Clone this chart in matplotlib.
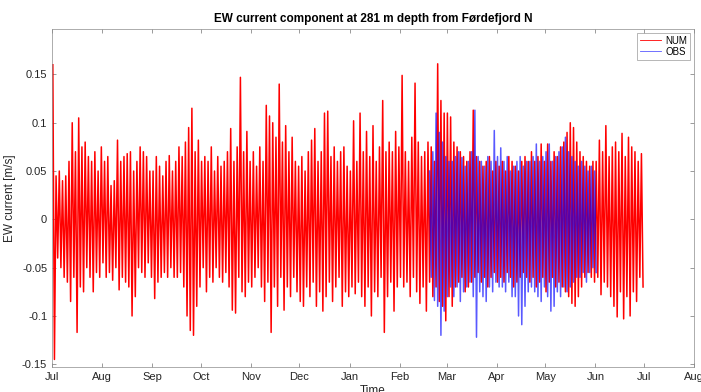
import numpy as np
import pandas as pd
import matplotlib
matplotlib.use("Agg")
import matplotlib.pyplot as plt

plt.rcParams.update({
    "font.family": ["Liberation Sans", "DejaVu Sans"],
    "font.size": 8,
    "axes.linewidth": 0.5,
})

# ================================
# data: 2-day envelope (max / min), m/s
# ================================
num_start = "2019-07-01"
# NUM, one value per 2-day bin, Jul 2019 -> Jun 2020
num_hi = [
    # Jul
    0.160, 0.045, 0.050, 0.040, 0.045, 0.060, 0.100, 0.070, 0.105, 0.075, 0.080, 0.065, 0.060, 0.070, 0.050, 0.075,
    # Aug
    0.060, 0.065, 0.035, 0.040, 0.082, 0.060, 0.065, 0.068, 0.070, 0.050, 0.060, 0.075, 0.070, 0.065, 0.050,
    # Sep
    0.050, 0.065, 0.055, 0.045, 0.060, 0.066, 0.050, 0.060, 0.075, 0.065, 0.080, 0.095, 0.115, 0.070, 0.082, 0.060,
    # Oct
    0.065, 0.060, 0.075, 0.050, 0.065, 0.055, 0.060, 0.070, 0.094, 0.060, 0.075, 0.147, 0.070, 0.091, 0.060,
    # Nov
    0.070, 0.055, 0.075, 0.060, 0.118, 0.107, 0.100, 0.085, 0.140, 0.080, 0.097, 0.070, 0.085, 0.060, 0.055,
    # Dec
    0.065, 0.050, 0.070, 0.082, 0.094, 0.060, 0.070, 0.110, 0.112, 0.065, 0.075, 0.060, 0.070, 0.075, 0.055, 0.050,
    # Jan
    0.102, 0.060, 0.110, 0.070, 0.091, 0.065, 0.097, 0.060, 0.075, 0.123, 0.070, 0.080, 0.070, 0.091, 0.075,
    # Feb
    0.149, 0.070, 0.060, 0.085, 0.141, 0.080, 0.065, 0.070, 0.080, 0.075, 0.060, 0.161, 0.123, 0.110, 0.110,
    # Mar
    0.106, 0.080, 0.075, 0.070, 0.065, 0.060, 0.070, 0.113, 0.065, 0.060, 0.055, 0.060, 0.065, 0.050, 0.060,
    # Apr
    0.055, 0.060, 0.050, 0.065, 0.060, 0.055, 0.050, 0.060, 0.065, 0.060, 0.070, 0.060, 0.065, 0.078, 0.060,
    # May
    0.078, 0.060, 0.070, 0.065, 0.075, 0.080, 0.090, 0.100, 0.095, 0.080, 0.070, 0.065, 0.060, 0.055, 0.060,
    # Jun
    0.060, 0.082, 0.070, 0.097, 0.065, 0.075, 0.080, 0.070, 0.089, 0.065, 0.085, 0.075, 0.070, 0.060, 0.068,
]
num_lo = [
    -0.145, -0.040, -0.050, -0.060, -0.065, -0.085, -0.060, -0.117, -0.070, -0.075, -0.050, -0.060, -0.075, -0.055, -0.060, -0.045,
    -0.060, -0.055, -0.063, -0.050, -0.073, -0.060, -0.065, -0.070, -0.100, -0.080, -0.050, -0.055, -0.060, -0.045, -0.060,
    -0.082, -0.065, -0.060, -0.055, -0.060, -0.050, -0.060, -0.060, -0.055, -0.070, -0.100, -0.115, -0.120, -0.090, -0.070, -0.050,
    -0.075, -0.060, -0.065, -0.050, -0.060, -0.065, -0.055, -0.070, -0.094, -0.097, -0.060, -0.075, -0.080, -0.065, -0.070,
    -0.060, -0.050, -0.070, -0.085, -0.065, -0.117, -0.070, -0.090, -0.060, -0.094, -0.070, -0.080, -0.060, -0.075, -0.085,
    -0.090, -0.070, -0.080, -0.065, -0.090, -0.075, -0.095, -0.080, -0.065, -0.085, -0.070, -0.060, -0.090, -0.075, -0.080, -0.070,
    -0.077, -0.065, -0.080, -0.090, -0.070, -0.100, -0.075, -0.080, -0.060, -0.117, -0.080, -0.065, -0.095, -0.070, -0.060,
    -0.070, -0.065, -0.080, -0.060, -0.075, -0.087, -0.070, -0.095, -0.065, -0.080, -0.070, -0.085, -0.090, -0.105, -0.080,
    -0.090, -0.070, -0.065, -0.060, -0.075, -0.070, -0.065, -0.060, -0.055, -0.065, -0.060, -0.070, -0.060, -0.055, -0.065,
    -0.060, -0.065, -0.055, -0.060, -0.070, -0.065, -0.060, -0.055, -0.060, -0.065, -0.060, -0.070, -0.065, -0.060, -0.075,
    -0.065, -0.060, -0.070, -0.065, -0.070, -0.075, -0.080, -0.087, -0.090, -0.080, -0.070, -0.060, -0.055, -0.060, -0.065,
    -0.060, -0.078, -0.065, -0.070, -0.080, -0.090, -0.101, -0.075, -0.103, -0.080, -0.100, -0.075, -0.085, -0.060, -0.070,
]

# OBS, 2-day bins, 19 Feb 2020 -> 1 Jun 2020
obs_start = "2020-02-19"
obs_hi = [
    0.050, 0.070, 0.110, 0.090, 0.080, 0.065, 0.060,
    0.060, 0.065, 0.070, 0.064, 0.055, 0.060, 0.070, 0.113, 0.065, 0.060, 0.055, 0.065, 0.060, 0.092, 0.065,
    0.074, 0.060, 0.065, 0.050, 0.055, 0.060, 0.065, 0.055, 0.060, 0.060, 0.065, 0.078, 0.060, 0.065, 0.070,
    0.078, 0.060, 0.065, 0.070, 0.075, 0.085, 0.070, 0.065, 0.060, 0.055, 0.060, 0.055, 0.050, 0.055, 0.050,
]
obs_lo = [
    -0.060, -0.084, -0.090, -0.120, -0.095, -0.080, -0.070,
    -0.080, -0.070, -0.085, -0.075, -0.070, -0.065, -0.080, -0.122, -0.075, -0.080, -0.085, -0.070, -0.075, -0.065, -0.070,
    -0.070, -0.075, -0.065, -0.080, -0.080, -0.100, -0.109, -0.090, -0.075, -0.070, -0.075, -0.080, -0.085, -0.070, -0.080,
    -0.095, -0.090, -0.075, -0.080, -0.070, -0.075, -0.070, -0.065, -0.060, -0.060, -0.055, -0.065, -0.055, -0.050, -0.055,
]

month_labels = ["Jul", "Aug", "Sep", "Oct", "Nov", "Dec", "Jan",
                "Feb", "Mar", "Apr", "May", "Jun", "Jul", "Aug"]
ytick_vals = [-0.15, -0.1, -0.05, 0, 0.05, 0.1, 0.15]
ytick_labels = ["-0.15", "-0.1", "-0.05", "0", "0.05", "0.1", "0.15"]


def zigzag(start, hi, lo):
    """max at the first half of each 2-day bin, min at the second half"""
    n = len(hi)
    t0 = pd.Timestamp(start)
    t_hi = t0 + pd.to_timedelta(np.arange(n) * 2 + 0.5, unit="D")
    t_lo = t0 + pd.to_timedelta(np.arange(n) * 2 + 1.5, unit="D")
    t = np.empty(2 * n, dtype="datetime64[ns]")
    v = np.empty(2 * n)
    t[0::2], t[1::2] = t_hi.values, t_lo.values
    v[0::2], v[1::2] = hi, lo
    return t, v


t_num, v_num = zigzag(num_start, num_hi, num_lo)
t_obs, v_obs = zigzag(obs_start, obs_hi, obs_lo)

# ================================
# plot
# ================================
fig = plt.figure(figsize=(7.01, 3.92), dpi=100)
ax = fig.add_axes([0.0742, 0.0638, 0.9158, 0.8622])

ax.plot(t_num, v_num, color="red", lw=1.1, label="NUM")
ax.plot(t_obs, v_obs, color="blue", lw=1.1, alpha=0.65, label="OBS")

month_ticks = pd.date_range("2019-07-01", "2020-08-01", freq="MS")
ax.set_xticks(month_ticks)
ax.set_xticklabels(month_labels)
ax.set_xlim(month_ticks[0], month_ticks[-1])
ax.set_yticks(ytick_vals)
ax.set_yticklabels(ytick_labels)
ax.set_ylim(-0.1528, 0.197)

for s in ax.spines.values():
    s.set_color("0.55")
ax.tick_params(direction="in", length=3, width=0.5, color="0.45",
               labelcolor="0.15", top=True, right=True, labelsize=8)

ax.set_title("EW current component at 281 m depth from Førdefjord N",
             fontsize=8.5, fontweight="bold", pad=5)
ax.set_ylabel("EW current [m/s]", fontsize=8.5, color="0.15", labelpad=4)
ax.set_xlabel("Time", fontsize=8.5, color="0.15", labelpad=2)

leg = ax.legend(loc="upper right", fontsize=7, frameon=True, fancybox=False,
                handlelength=2.2, borderpad=0.3, labelspacing=0.1,
                handletextpad=0.4, borderaxespad=0.4)
leg.get_frame().set_edgecolor("0.5")
leg.get_frame().set_linewidth(0.5)
for line in leg.get_lines():
    line.set_linewidth(0.6)

fig.savefig("out.png", dpi=100)
